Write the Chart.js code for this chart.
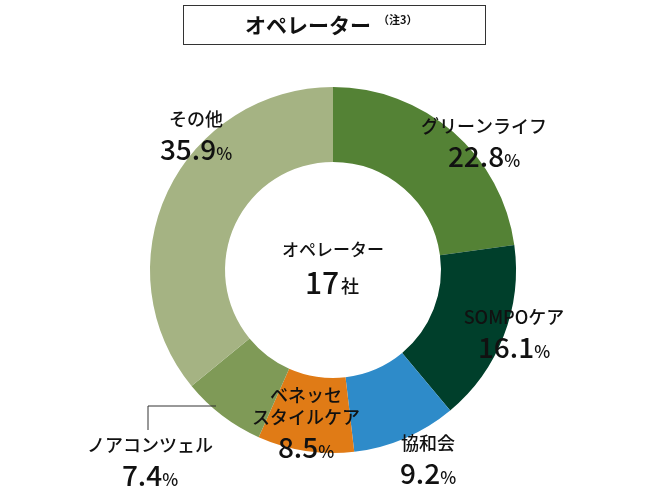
<!DOCTYPE html>
<html><head><meta charset="utf-8">
<script src="https://cdn.jsdelivr.net/npm/chart.js@4/dist/chart.umd.min.js"></script>
<style>body{margin:0;background:#fff}#w{width:670px;height:500px}</style></head>
<body><div id="w"><canvas id="c"></canvas></div>
<script>
const categories=["グリーンライフ","SOMPOケア","協和会","ベネッセ\nスタイルケア","ノアコンツェル","その他"];
const values=[22.8,16.1,9.2,8.5,7.4,35.9];
const colors=["#548235","#003f2b","#2e8bc9","#e07b16","#7f9a57","#a5b383"];
const labelPos=[[484,133],[514,324],[428,450],[306,424],[150,452],[196,126]];
const F='"Noto Sans CJK JP", sans-serif';
const deco={id:'deco',afterDraw(ch){
 const x=ch.ctx;x.save();x.fillStyle='#111';x.textAlign='center';x.textBaseline='alphabetic';
 x.strokeStyle='#333';x.lineWidth=1;x.strokeRect(183.5,5.5,302,39);
 x.font='bold 21px '+F;x.textAlign='left';x.fillText('オペレーター',245,33);
 x.font='bold 11px '+F;x.fillText('（注3）',378,24);
 x.textAlign='center';
 x.font='500 17px '+F;x.fillText('オペレーター',333,256);
 x.font='500 30px '+F;x.fillText('17',322,294);x.font='500 18px '+F;x.fillText('社',350,293);
 categories.forEach((c,i)=>{
  const [px,py]=labelPos[i];const lines=c.split('\n');
  x.font='500 18px '+F;
  lines.forEach((l,j)=>x.fillText(l,px,py-(lines.length-1-j)*22));
  const v=values[i].toFixed(1);x.font='500 28px '+F;const w=x.measureText(v).width;
  x.font='500 17px '+F;const w2=x.measureText('%').width;
  x.font='500 28px '+F;x.textAlign='left';x.fillText(v,px-(w+w2)/2,py+34);
  x.font='500 17px '+F;x.fillText('%',px-(w+w2)/2+w,py+34);x.textAlign='center';
 });
 x.strokeStyle='#333';x.beginPath();x.moveTo(148,430);x.lineTo(148,406);x.lineTo(216,406);x.stroke();
 x.restore();}};
new Chart(document.getElementById('c'),{type:'doughnut',
 data:{labels:categories,datasets:[{data:values,backgroundColor:colors,borderWidth:0}]},
 options:{responsive:true,maintainAspectRatio:false,animation:false,cutout:'59%',
  layout:{padding:{left:150,right:154,top:87,bottom:47}},
  plugins:{legend:{display:false},tooltip:{enabled:false}}},plugins:[deco]});
</script></body></html>
